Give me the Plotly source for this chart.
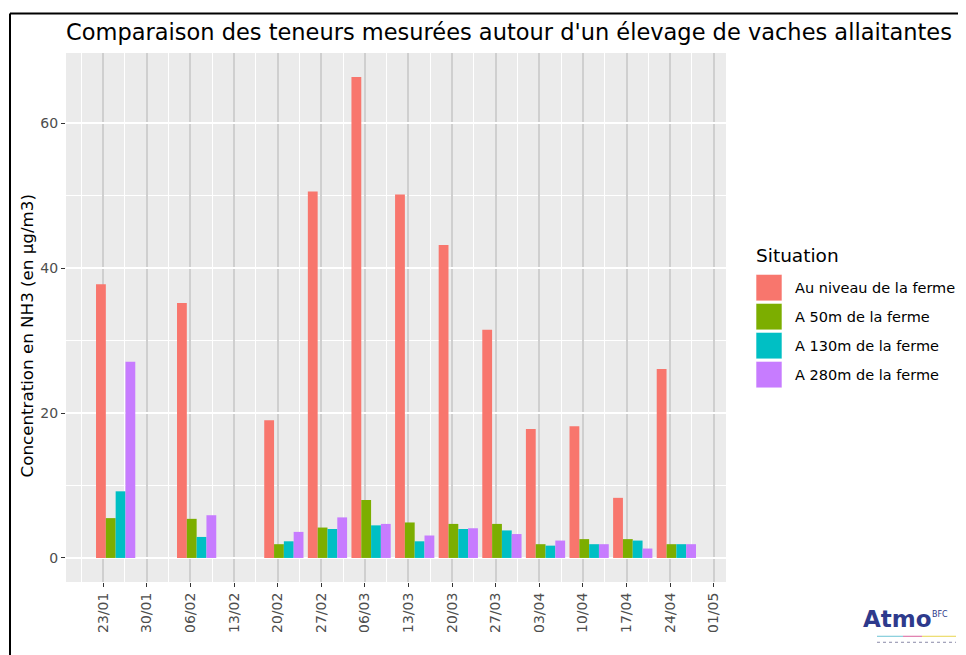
import plotly.graph_objects as go

# ---- data ----
dates = ["2017-01-25", "2017-02-07", "2017-02-21", "2017-02-28", "2017-03-07", "2017-03-14",
         "2017-03-21", "2017-03-28", "2017-04-04", "2017-04-11", "2017-04-18", "2017-04-25"]
ferme = [37.8, 35.2, 19.0, 50.6, 66.4, 50.2, 43.2, 31.5, 17.8, 18.2, 8.3, 26.1]
m50 = [5.5, 5.4, 1.9, 4.2, 8.0, 4.9, 4.7, 4.7, 1.9, 2.6, 2.6, 1.9]
m130 = [9.2, 2.9, 2.3, 4.0, 4.5, 2.3, 4.0, 3.8, 1.7, 1.9, 2.4, 1.9]
m280 = [27.1, 5.9, 3.6, 5.6, 4.7, 3.1, 4.1, 3.3, 2.4, 1.9, 1.3, 1.9]
series_names = ["Au niveau de la ferme", "A 50m de la ferme", "A 130m de la ferme", "A 280m de la ferme"]
colors = ["#F8766D", "#7CAE00", "#00BFC4", "#C77CFF"]
tick_dates = ["2017-01-23", "2017-01-30", "2017-02-06", "2017-02-13", "2017-02-20", "2017-02-27",
              "2017-03-06", "2017-03-13", "2017-03-20", "2017-03-27", "2017-04-03", "2017-04-10",
              "2017-04-17", "2017-04-24", "2017-05-01"]
tick_labels = ["23/01", "30/01", "06/02", "13/02", "20/02", "27/02", "06/03", "13/03", "20/03",
               "27/03", "03/04", "10/04", "17/04", "24/04", "01/05"]
y_ticks = [0, 20, 40, 60]

FONT = "DejaVu Sans"

# page offset (browser body margin) and plot-area geometry in screen pixels
OFF = 8
L, R, T, B = 66, 726, 52.5, 581.7
W, H = 966 - OFF, 655 - OFF


def px(x):
    return (x - L) / (R - L)


def py(y):
    return (B - y) / (B - T)


fig = go.Figure()
for name, vals, col in zip(series_names, [ferme, m50, m130, m280], colors):
    fig.add_trace(go.Bar(x=dates, y=vals, name=name, marker=dict(color=col, line=dict(width=0)),
                         showlegend=False))

fig.update_layout(
    width=W, height=H,
    margin=dict(l=L - OFF, r=W - (R - OFF), t=T - OFF, b=H - (B - OFF), autoexpand=False),
    paper_bgcolor="white", plot_bgcolor="#EBEBEB",
    barmode="group", bargap=0.1, bargroupgap=0,
    font=dict(family=FONT, color="#4D4D4D"),
    title=dict(text="Comparaison des teneurs mesurées autour d'un élevage de vaches allaitantes",
               x=0, xref="paper", xanchor="left", y=1 - (32 - OFF) / H, yanchor="middle",
               font=dict(size=22.5, color="black", family=FONT)),
)

fig.update_xaxes(
    type="date",
    range=["2017-01-17 00:45", "2017-05-02 23:15"],
    tickmode="array", tickvals=tick_dates, ticktext=tick_labels,
    tickangle=-90, tickfont=dict(size=14, color="#4D4D4D"),
    ticks="outside", ticklen=4, tickcolor="#333333", tickwidth=1,
    showgrid=True, gridcolor="#CFCFCF", gridwidth=1.6,
    minor=dict(tick0="2017-01-19 12:00", dtick=7 * 86400000, showgrid=True,
               gridcolor="white", gridwidth=0.8, ticklen=0),
    showline=False, zeroline=False,
)
fig.update_yaxes(
    range=[-3.32, 69.72],
    tickmode="array", tickvals=y_ticks,
    tickfont=dict(size=14, color="#4D4D4D"),
    ticks="outside", ticklen=4, tickcolor="#333333", tickwidth=1,
    showgrid=True, gridcolor="white", gridwidth=1.6,
    minor=dict(tickvals=[10, 30, 50], showgrid=True, gridcolor="white", gridwidth=0.8, ticklen=0),
    zeroline=False, showline=False,
)

shapes = []
annotations = []
# y-axis title
annotations.append(dict(text="Concentration en NH3 (en µg/m3)", xref="paper", yref="paper",
                        x=px(27), y=py(336), textangle=-90, xanchor="center", yanchor="middle",
                        showarrow=False, font=dict(size=16.7, color="black", family=FONT)))
# manual legend
annotations.append(dict(text="Situation", xref="paper", yref="paper", x=px(754), y=py(255),
                        xanchor="left", yanchor="middle", showarrow=False,
                        font=dict(size=18.5, color="black", family=FONT)))
row_tops = [274, 303, 332, 361]
for name, col, top in zip(series_names, colors, row_tops):
    shapes.append(dict(type="rect", xref="paper", yref="paper", x0=px(756), x1=px(782),
                       y0=py(top + 26.5), y1=py(top), fillcolor=col,
                       line=dict(color="rgba(255,255,255,0.6)", width=1)))
    annotations.append(dict(text=name, xref="paper", yref="paper", x=px(793), y=py(top + 13.5),
                            xanchor="left", yanchor="middle", showarrow=False,
                            font=dict(size=14.5, color="black", family=FONT)))

# outer frame (left and top lines)
shapes.append(dict(type="line", xref="paper", yref="paper", x0=px(10), x1=px(10),
                   y0=py(13), y1=py(700), line=dict(color="black", width=2)))
shapes.append(dict(type="line", xref="paper", yref="paper", x0=px(10), x1=px(1000),
                   y0=py(13), y1=py(13), line=dict(color="black", width=2)))

# logo
annotations.append(dict(text="<b>Atmo</b>", xref="paper", yref="paper", x=px(898), y=py(619),
                        xanchor="center", yanchor="middle", showarrow=False,
                        font=dict(size=23, color="#2E3A8C", family="DejaVu Sans")))
annotations.append(dict(text="BFC", xref="paper", yref="paper", x=px(930), y=py(614),
                        xanchor="left", yanchor="middle", showarrow=False,
                        font=dict(size=8, color="#2E3A8C", family="DejaVu Sans")))
for x0, x1, c in [(877, 903, "#6CC3D5"), (903, 922, "#D9609A"), (922, 956, "#E8D44D")]:
    shapes.append(dict(type="line", xref="paper", yref="paper", x0=px(x0), x1=px(x1),
                       y0=py(636), y1=py(636), line=dict(color=c, width=1)))
shapes.append(dict(type="line", xref="paper", yref="paper", x0=px(877), x1=px(956),
                   y0=py(642), y1=py(642), line=dict(color="#8A8AA8", width=1, dash="dot")))

fig.update_layout(shapes=shapes, annotations=annotations)
fig.write_html("out.html")
